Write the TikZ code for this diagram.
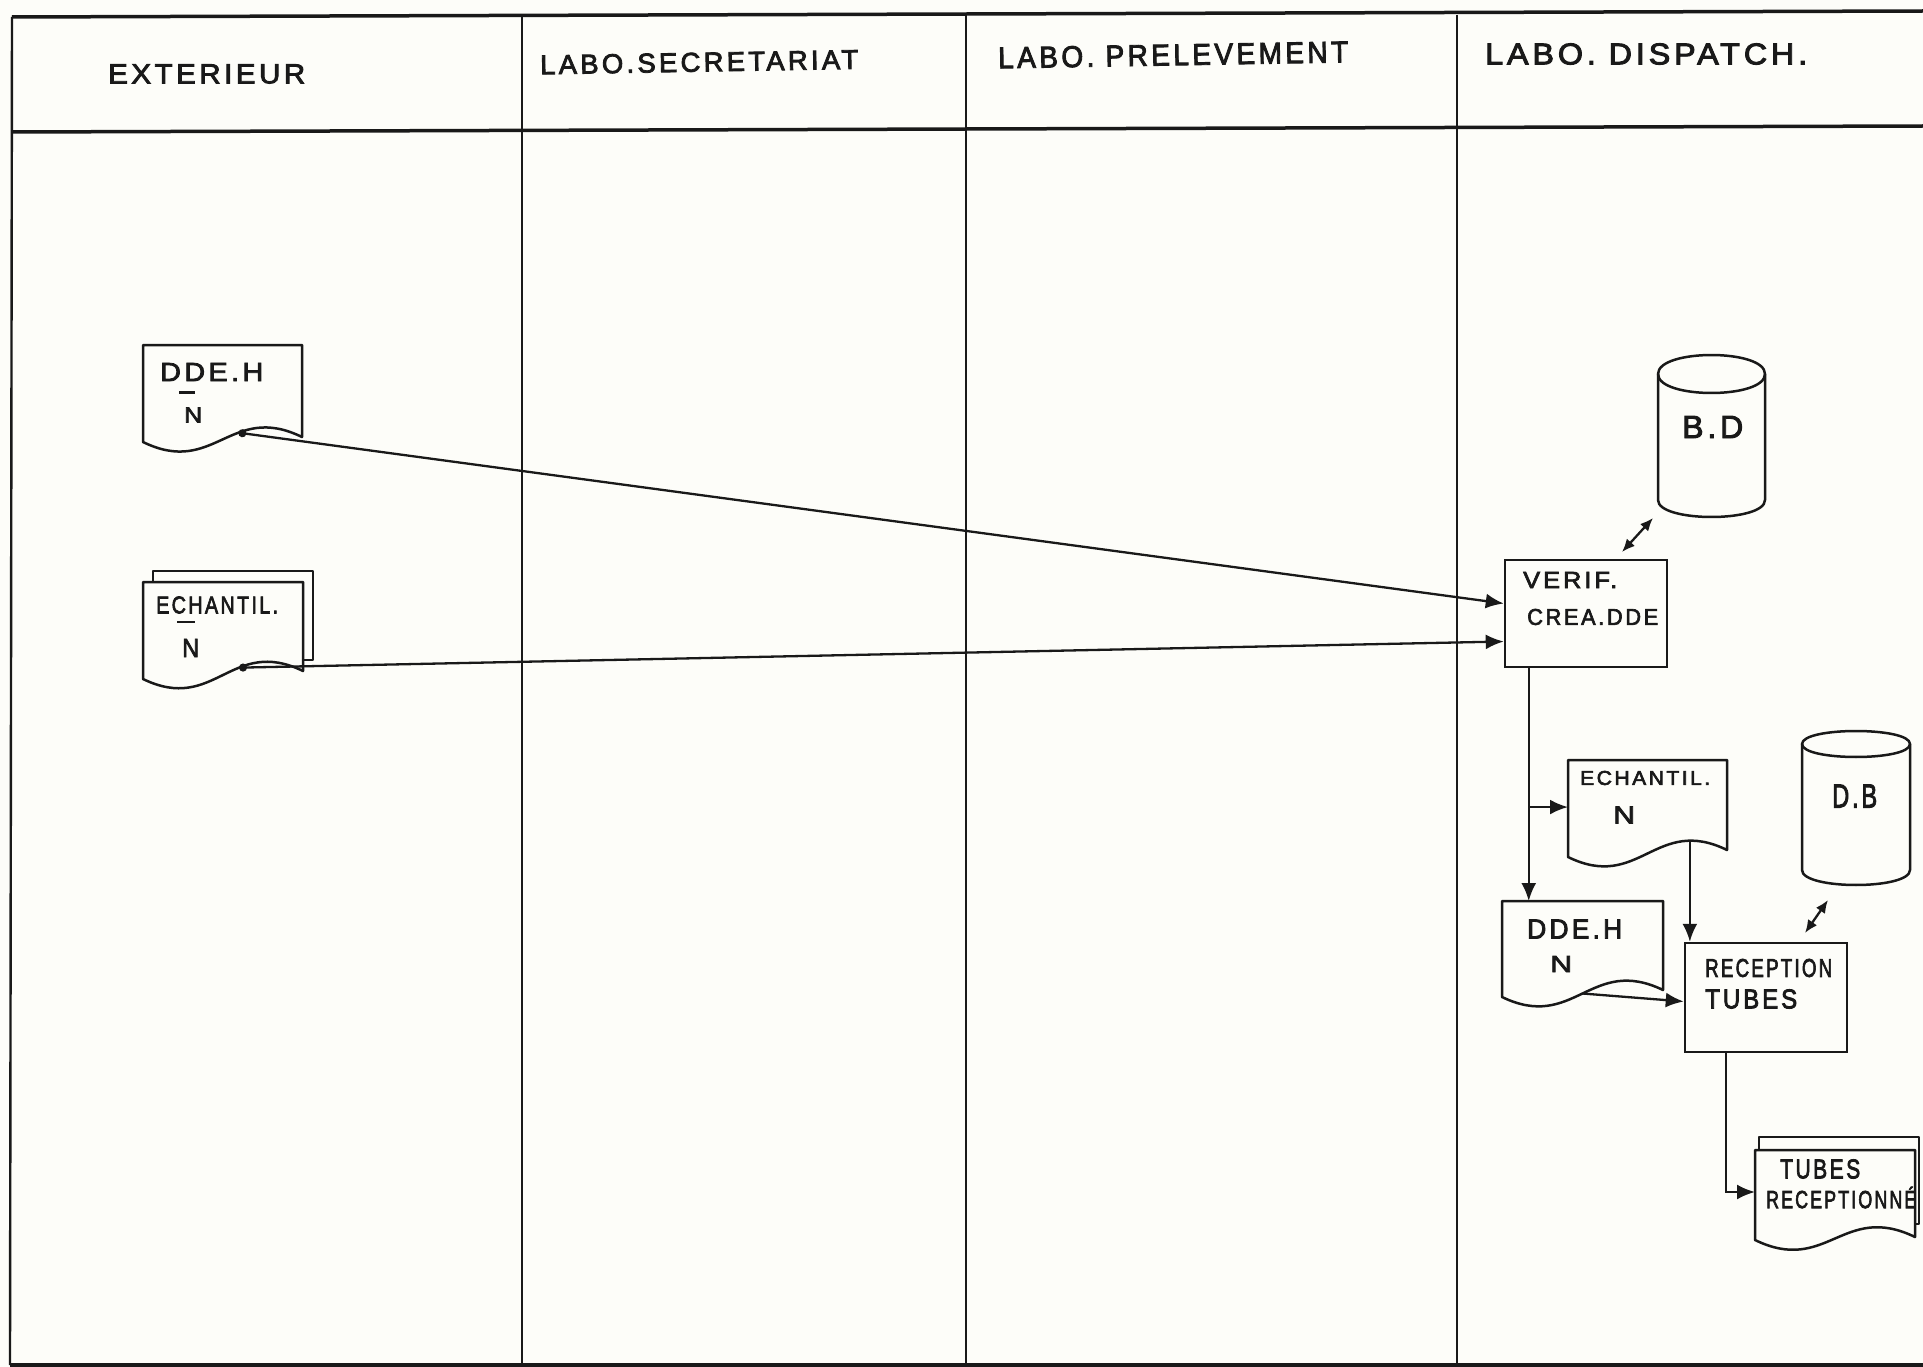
\documentclass[tikz,border=0pt]{standalone}
\usepackage{fontspec}
\usepackage{graphicx}
\usetikzlibrary{arrows.meta,calc}
\newfontfamily\hw[LetterSpace=12,FakeBold=3]{Liberation Sans}
\definecolor{paper}{RGB}{253,253,249}
\definecolor{ink}{RGB}{25,25,25}
\newcommand\fit[3]{\resizebox{#1pt}{#2pt}{\hw #3}}
% document shape: name, x0, y0, x1, y-left-bottom, y-right-bottom, wave depth
\newcommand\Doc[7]{%
  \draw[docline] (#2,#3) coordinate (#1-nw) -- (#2,#5) coordinate (#1-sw)
    .. controls ({#2+0.45*(#4-#2)},{#5+#7}) and ({#2+0.55*(#4-#2)},{#6-#7}) ..
    coordinate[pos=0.5] (#1-w5) coordinate[pos=0.62] (#1-w6) coordinate[pos=0.8] (#1-w8)
    (#4,#6) coordinate (#1-se) -- (#4,#3) coordinate (#1-ne) -- cycle;
}
% back sheet of a stack: x0, y0, x1, y-right-bottom, offset x, offset y
\newcommand\Back[6]{%
  \draw[docline] ({#1+#5},#2) -- ({#1+#5},{#2-#6}) -- ({#3+#5},{#2-#6})
    -- ({#3+#5},{#4-#6}) -- (#3,{#4-#6});
}
% cylinder: name, x0, x1, y-top, top radius, y-bottom, bottom depth
\newcommand\Cyl[7]{%
  \draw[docline] (#2,#4) -- (#2,#6)
    .. controls (#2,{#6+1.333*#7}) and (#3,{#6+1.333*#7}) .. (#3,#6)
    -- (#3,#4) .. controls (#3,{#4-1.333*#5}) and (#2,{#4-1.333*#5}) .. (#2,#4) -- cycle;
  \draw[docline,fill=none] (#2,#4)
    .. controls (#2,{#4+1.333*#5}) and (#3,{#4+1.333*#5}) .. (#3,#4);
  \coordinate (#1-c) at ({(#2+#3)/2},{(#4+#6)/2});
}
\begin{document}
\begin{tikzpicture}[x=1pt,y=-1pt,
  frameh/.style={draw=ink,line width=3.5pt},
  framev/.style={draw=ink,line width=2.4pt},
  docline/.style={draw=ink,line width=2.5pt,fill=paper,line join=round},
  procbox/.style={draw=ink,line width=2.5pt,fill=paper,inner sep=0pt},
  txt/.style={inner sep=0pt,anchor=west,text=ink},
  arr/.style={draw=ink,line width=2.3pt,-{Latex[length=18pt,width=15pt]}},
  dotarr/.style={draw=ink,line width=2.3pt,{Circle[length=8pt]}-{Latex[length=18pt,width=15pt]}},
  darr/.style={draw=ink,line width=2.3pt,{Latex[length=13pt,width=11pt]}-{Latex[length=13pt,width=11pt]}},
  bar/.style={draw=ink,line width=2.6pt}
]
\useasboundingbox (0,0) rectangle (1923,1367);
\fill[paper] (0,0) rectangle (1923,1367);

% ---- swimlane frame ----
\coordinate (ftl) at (12,17);
\coordinate (ftr) at (1923,11);
\coordinate (fhl) at (12,132);
\coordinate (fhr) at (1923,126);
\coordinate (fbl) at (10,1365);
\coordinate (fbr) at (1923,1365);
\draw[frameh] (ftl) -- (ftr);
\draw[frameh] (fhl) -- (fhr);
\draw[frameh] (fbl) -- (fbr);
\draw[framev] (ftl) -- (fbl);
\foreach \lx/\nm in {522/d1,966/d2,1457/d3}{
  \coordinate (\nm-t) at (\lx,15);
  \coordinate (\nm-b) at (\lx,1365);
  \draw[framev] (\nm-t) -- (\nm-b);
}

% ---- lane titles ----
\node[txt] (h1) at (108,74) {\fit{197}{19}{EXTERIEUR}};
\node[txt,rotate=1] (h2) at (540,65) {\fit{318}{19}{LABO.SECRETARIAT}};
\node[txt,rotate=1] (h3) at (998,58) {\fit{350}{21}{LABO. PRELEVEMENT}};
\node[txt] (h4) at (1485,54) {\fit{322}{21}{LABO. DISPATCH.}};

% ---- EXTERIEUR documents ----
\Doc{ddeA}{143}{345}{302}{442}{437}{35}
\node[txt] (ddeA-t1) at (160,372) {\fit{103}{18}{DDE.H}};
\node[txt] (ddeA-t2) at (184,415) {\fit{18}{15}{N}};
\draw[bar] ([xshift=-5pt,yshift=15pt]ddeA-t2.north west) -- ++(16,0);

\Back{143}{582}{303}{671}{10}{11}
\Doc{echA}{143}{582}{303}{679}{671}{35}
\node[txt] (echA-t1) at (156,605) {\fit{122}{17}{ECHANTIL.}};
\node[txt] (echA-t2) at (182,648) {\fit{17}{18}{N}};
\draw[bar] ([xshift=-5pt,yshift=17pt]echA-t2.north west) -- ++(18,0);

% ---- DISPATCH lane ----
\Cyl{bd}{1658}{1765}{374}{19}{500}{17}
\node[txt] (bd-t) at (1682,427) {\fit{61}{22}{B.D}};

\node[procbox,minimum width=162pt,minimum height=107pt] (verif) at (1586,613.5) {};
\node[txt] (verif-t1) at (1523,580) {\fit{94}{16}{VERIF.}};
\node[txt] (verif-t2) at (1527,617) {\fit{131}{16}{CREA.DDE}};

\Doc{echB}{1568}{760}{1727}{857}{850}{35}
\node[txt] (echB-t1) at (1580,778) {\fit{130}{14}{ECHANTIL.}};
\node[txt] (echB-t2) at (1613,815) {\fit{22}{17}{N}};

\Cyl{db}{1802}{1910}{744}{13}{870}{15}
\node[txt] (db-t) at (1832,796) {\fit{45}{23}{D.B}};

\Doc{ddeB}{1502}{901}{1663}{997}{990}{35}
\node[txt] (ddeB-t1) at (1527,929) {\fit{95}{19}{DDE.H}};
\node[txt] (ddeB-t2) at (1550,964) {\fit{22}{16}{N}};

\node[procbox,minimum width=162pt,minimum height=109pt] (recep) at (1766,997.5) {};
\node[txt] (recep-t1) at (1705,968) {\fit{127}{18}{RECEPTION}};
\node[txt] (recep-t2) at (1705,999) {\fit{92}{19}{TUBES}};

\Back{1755}{1150}{1915}{1237}{4}{13}
\Doc{tub}{1755}{1150}{1915}{1240}{1237}{35}
\node[txt] (tub-t1) at (1780,1169) {\fit{80}{19}{TUBES}};
\node[txt] (tub-t2) at (1766,1197.5) {\fit{150}{21.5}{RECEPTIONNÉ}};

% ---- connectors ----
\coordinate (vin1) at ([yshift=10pt]verif.west);
\coordinate (vin2) at ([yshift=-28pt]verif.west);
\draw[dotarr] (ddeA-w6) -- (vin1);
\draw[dotarr] (echA-w6) -- (vin2);

\coordinate (bdA) at (1622,552);
\coordinate (bdB) at (1653,518);
\draw[darr] (bdA) -- (bdB);

\coordinate (vdown) at ([xshift=25pt]verif.south west);
\draw[arr] (vdown) -- (vdown |- ddeB-nw);
\coordinate (echB-in) at ($(echB-nw)!0.485!(echB-sw)$);
\draw[arr] (echB-in -| vdown) -- (echB-in);

\draw[arr] (echB-w8) -- (echB-w8 |- recep.north);
\coordinate (recep-in) at ([yshift=-4pt]recep.west);
\draw[arr] (ddeB-w5) -- (recep-in);

\coordinate (dbA) at (1805,933);
\coordinate (dbB) at (1828,900);
\draw[darr] (dbA) -- (dbB);

\coordinate (rdown) at ([xshift=-40pt]recep.south);
\coordinate (tub-in) at (1755,1192);
\draw[arr] (rdown) |- (tub-in);
\end{tikzpicture}
\end{document}
